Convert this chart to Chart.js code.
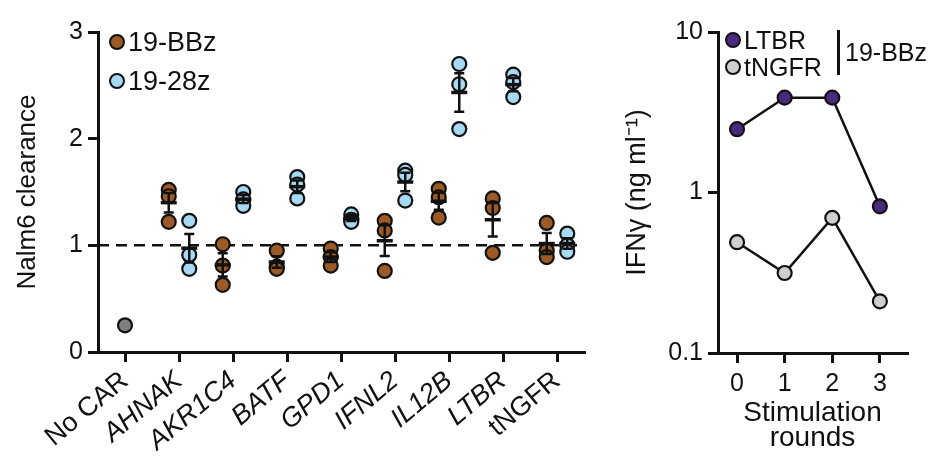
<!DOCTYPE html>
<html>
<head>
<meta charset="utf-8">
<script src="https://cdn.jsdelivr.net/npm/chart.js@4.4.1/dist/chart.umd.min.js"></script>
<style>
  body { margin: 0; background: #fff; font-family: "Liberation Sans", Arial, sans-serif; }
  #wrap { position: relative; width: 938px; height: 460px; overflow: hidden; }
  #leftBox { position: absolute; left: 0; top: 0; width: 600px; height: 460px; }
  #rightBox { position: absolute; left: 600px; top: 0; width: 338px; height: 460px; }
  .leg { position: absolute; display: flex; align-items: center; height: 30px; color: #111; white-space: nowrap; line-height: 1; }
  .dot { display: inline-block; width: 12px; height: 12px; border: 2px solid #111; border-radius: 50%; margin-right: 3px; }
  .bar { position: absolute; width: 3px; background: #111; }
</style>
</head>
<body>
<div id="wrap">
  <div id="leftBox"><canvas id="clearance"></canvas></div>
  <div id="rightBox"><canvas id="ifng"></canvas></div>

  <div class="leg" style="left:109px;top:27px;font-size:27px"><span class="dot" style="background:#9c5a26"></span>19-BBz</div>
  <div class="leg" style="left:109px;top:66px;font-size:27px"><span class="dot" style="background:#a6daf4"></span>19-28z</div>

  <div class="leg" style="left:725px;top:25px;font-size:25px"><span class="dot" style="background:#4a2a80"></span>LTBR</div>
  <div class="leg" style="left:725px;top:52px;font-size:25px"><span class="dot" style="background:#cfcfcf"></span>tNGFR</div>
  <div class="bar" style="left:837px;top:30px;height:45px"></div>
  <div class="leg" style="left:845px;top:37px;font-size:25px">19-BBz</div>
</div>

<script>
// left panel: Nalm6 clearance per knock-in
const categories = ["No CAR", "AHNAK", "AKR1C4", "BATF", "GPD1", "IFNL2", "IL12B", "LTBR", "tNGFR"];
const italicLabels = [false, true, true, true, true, true, true, true, false];
const noCarValues = [0.25];
const bbzValues = [
  [],
  [1.52, 1.46, 1.22],
  [1.01, 0.81, 0.63],
  [0.95, 0.80, 0.78],
  [0.97, 0.89, 0.81],
  [1.23, 1.14, 0.76],
  [1.53, 1.45, 1.26],
  [1.44, 1.35, 0.93],
  [1.21, 0.95, 0.89]
];
const cd28Values = [
  [],
  [1.23, 0.91, 0.78],
  [1.50, 1.43, 1.37],
  [1.64, 1.57, 1.44],
  [1.29, 1.24, 1.22],
  [1.70, 1.66, 1.42],
  [2.70, 2.51, 2.09],
  [2.60, 2.53, 2.39],
  [1.11, 1.00, 0.94]
];
const leftTicks = [0, 1, 2, 3];

// right panel: IFNg over stimulation rounds
const rounds = [0, 1, 2, 3];
const ltbrIfng = [2.48, 3.9, 3.9, 0.82];
const tngfrIfng = [0.49, 0.315, 0.695, 0.21];
const rightTicks = [0.1, 1, 10];

const BROWN = "#9c5a26", BLUE = "#a6daf4", GREY = "#808080";
const PURPLE = "#4a2a80", LIGHT = "#cfcfcf", INK = "#111";
const FONT = "'Liberation Sans', Arial, sans-serif";
const SHIFT = 0.19;

function toPoints(groups, shift) {
  const pts = [];
  groups.forEach((vals, i) => vals.forEach(v => pts.push({ x: i + shift, y: v })));
  return pts;
}

function meanSem(vals) {
  const m = vals.reduce((a, b) => a + b, 0) / vals.length;
  const sd = Math.sqrt(vals.reduce((a, b) => a + (b - m) ** 2, 0) / (vals.length - 1));
  return [m, sd / Math.sqrt(vals.length)];
}

const refLine = {
  id: "refLine",
  beforeDatasetsDraw(chart) {
    const { ctx, chartArea, scales: { y } } = chart;
    const py = y.getPixelForValue(1);
    ctx.save();
    ctx.strokeStyle = INK;
    ctx.lineWidth = 2.5;
    ctx.setLineDash([11, 7]);
    ctx.beginPath();
    ctx.moveTo(chartArea.left, py);
    ctx.lineTo(chartArea.right, py);
    ctx.stroke();
    ctx.restore();
  }
};

const errorBars = {
  id: "errorBars",
  afterDatasetsDraw(chart) {
    const { ctx, scales: { x, y } } = chart;
    ctx.save();
    ctx.strokeStyle = INK;
    [[bbzValues, -SHIFT], [cd28Values, SHIFT]].forEach(([groups, shift]) => {
      groups.forEach((vals, i) => {
        if (vals.length < 2) return;
        const [m, sem] = meanSem(vals);
        const px = x.getPixelForValue(i + shift);
        const pm = y.getPixelForValue(m);
        const top = y.getPixelForValue(m + sem);
        const bot = y.getPixelForValue(m - sem);
        ctx.lineWidth = 2.5;
        ctx.beginPath();
        ctx.moveTo(px, top); ctx.lineTo(px, bot);
        ctx.moveTo(px - 5, top); ctx.lineTo(px + 5, top);
        ctx.moveTo(px - 5, bot); ctx.lineTo(px + 5, bot);
        ctx.stroke();
        ctx.lineWidth = 3.5;
        ctx.beginPath();
        ctx.moveTo(px - 8, pm); ctx.lineTo(px + 8, pm);
        ctx.stroke();
      });
    });
    ctx.restore();
  }
};

const axisGrid = { display: true, drawOnChartArea: false, drawTicks: true, tickLength: 10, color: INK, lineWidth: 3 };
const axisBorder = { display: true, color: INK, width: 3 };

new Chart(document.getElementById("clearance"), {
  type: "scatter",
  data: {
    datasets: [
      { label: "No CAR", data: noCarValues.map(v => ({ x: 0, y: v })), backgroundColor: GREY },
      { label: "19-BBz", data: toPoints(bbzValues, -SHIFT), backgroundColor: BROWN },
      { label: "19-28z", data: toPoints(cd28Values, SHIFT), backgroundColor: BLUE }
    ].map(d => Object.assign(d, { borderColor: INK, borderWidth: 2.2, pointRadius: 7 }))
  },
  options: {
    responsive: true,
    maintainAspectRatio: false,
    animation: false,
    layout: { padding: { top: 32, right: 16, left: 0, bottom: 0 } },
    plugins: { legend: { display: false }, tooltip: { enabled: false } },
    scales: {
      x: {
        type: "linear",
        min: -0.5,
        max: 8.5,
        afterBuildTicks: s => { s.ticks = categories.map((c, i) => ({ value: i })); },
        afterFit: s => { s.height = 108; },
        grid: axisGrid,
        border: axisBorder,
        ticks: {
          autoSkip: false,
          minRotation: 40,
          maxRotation: 40,
          padding: 3,
          color: INK,
          callback: v => categories[v],
          font: c => ({ family: FONT, size: 27, style: italicLabels[c.index] ? "italic" : "normal" })
        }
      },
      y: {
        min: 0,
        max: 3,
        afterBuildTicks: s => { s.ticks = leftTicks.map(v => ({ value: v })); },
        afterFit: s => { s.width = 98; },
        grid: axisGrid,
        border: axisBorder,
        ticks: { color: INK, padding: 5, font: { family: FONT, size: 25 } },
        title: { display: true, text: "Nalm6 clearance", color: INK, padding: { top: 12, bottom: 0 }, font: { family: FONT, size: 26 } }
      }
    }
  },
  plugins: [refLine, errorBars]
});

new Chart(document.getElementById("ifng"), {
  type: "line",
  data: {
    datasets: [
      { label: "LTBR", data: rounds.map((r, i) => ({ x: r, y: ltbrIfng[i] })), pointBackgroundColor: PURPLE },
      { label: "tNGFR", data: rounds.map((r, i) => ({ x: r, y: tngfrIfng[i] })), pointBackgroundColor: LIGHT }
    ].map(d => Object.assign(d, { borderColor: INK, borderWidth: 2.5, pointBorderColor: INK, pointBorderWidth: 2.2, pointRadius: 7 }))
  },
  options: {
    responsive: true,
    maintainAspectRatio: false,
    animation: false,
    layout: { padding: { top: 32, right: 31, left: 0, bottom: 0 } },
    plugins: { legend: { display: false }, tooltip: { enabled: false } },
    scales: {
      x: {
        type: "linear",
        min: -0.4,
        max: 3.57,
        afterBuildTicks: s => { s.ticks = rounds.map(v => ({ value: v })); },
        afterFit: s => { s.height = 107; },
        grid: axisGrid,
        border: axisBorder,
        ticks: { color: INK, padding: 6, maxRotation: 0, font: { family: FONT, size: 25 } },
        title: {
          display: true, text: ["Stimulation", "rounds"], color: INK,
          padding: { top: 0, bottom: 9 }, font: { family: FONT, size: 28, lineHeight: 0.9 }
        }
      },
      y: {
        type: "logarithmic",
        min: 0.1,
        max: 10,
        afterBuildTicks: s => { s.ticks = rightTicks.map(v => ({ value: v })); },
        afterFit: s => { s.width = 118; },
        grid: axisGrid,
        border: axisBorder,
        ticks: { color: INK, padding: 5, callback: v => String(v), font: { family: FONT, size: 25 } },
        title: { display: true, text: "IFNγ (ng ml⁻¹)", color: INK, padding: { top: 21, bottom: 0 }, font: { family: FONT, size: 27 } }
      }
    }
  }
});
</script>
</body>
</html>
